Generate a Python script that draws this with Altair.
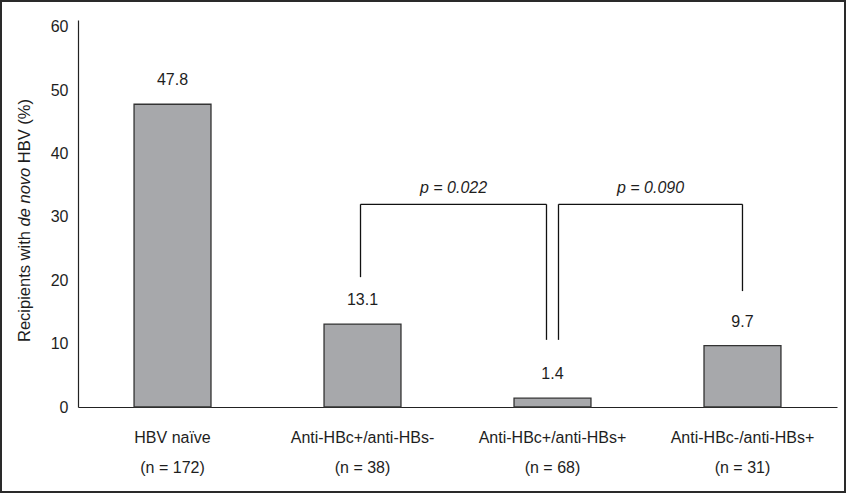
import altair as alt
import pandas as pd

# ---- data ----
categories = ["HBV naïve", "Anti-HBc+/anti-HBs-", "Anti-HBc+/anti-HBs+", "Anti-HBc-/anti-HBs+"]
n_values = [172, 38, 68, 31]
rates = [47.8, 13.1, 1.4, 9.7]

bracket_from = [1, 2]
bracket_to = [2, 3]
p_labels = ["p = 0.022", "p = 0.090"]
bracket_top = [32.0, 32.0]
bracket_from_bottom = [20.5, 10.6]
bracket_to_bottom = [10.6, 18.3]
y_ticks = [0, 10, 20, 30, 40, 50, 60]

# ---- style / layout ----
FONT = "Liberation Sans"
W, H = 759, 387
PAD_L, PAD_T = 78, 20
P_IN, P_OUT = 0.595, 0.295
STEP = W / (len(categories) - P_IN + 2 * P_OUT)
leg_off_from = [-2, 6]
leg_off_to = [-6, 0]
TXT = "#1e1e1e"
LINE = "#222222"

labels = [f"{c}|(n = {n})" for c, n in zip(categories, n_values)]
bars = pd.DataFrame({"label": labels, "rate": rates})

xscale = alt.Scale(domain=labels, paddingInner=P_IN, paddingOuter=P_OUT)
yscale = alt.Scale(domain=[0, 61.1], nice=False, zero=True)

x_axis = alt.Axis(
    title=None, labelExpr="split(datum.label, '|')", ticks=False, domain=True,
    domainColor=LINE, domainWidth=1.2, labelFont=FONT, labelFontSize=16, labelColor=TXT,
    labelPadding=22, labelLineHeight=30, labelBaseline="top", labelAngle=0,
)
y_axis = alt.Axis(
    title=None, values=y_ticks, ticks=False, grid=False, domainColor=LINE, domainWidth=1.2,
    labelFont=FONT, labelFontSize=16, labelColor=TXT, labelPadding=10,
)

bar = alt.Chart(bars).mark_bar(
    fill="#a7a8ab", stroke="#333333", strokeWidth=1.3
).encode(
    x=alt.X("label:N", scale=xscale, axis=x_axis, sort=labels),
    y=alt.Y("rate:Q", scale=yscale, axis=y_axis),
)

value_text = alt.Chart(bars).mark_text(
    font=FONT, fontSize=16, color=TXT, baseline="middle", dy=-24
).encode(
    x=alt.X("label:N", scale=xscale, sort=labels),
    y=alt.Y("rate:Q", scale=yscale),
    text=alt.Text("rate:Q", format=".1f"),
)

layers = [bar, value_text]

for i in range(len(p_labels)):
    lf = labels[bracket_from[i]]
    lt = labels[bracket_to[i]]
    top = bracket_top[i]
    leg_l = pd.DataFrame({"label": [lf], "y": [bracket_from_bottom[i]], "y2": [top]})
    leg_r = pd.DataFrame({"label": [lt], "y": [bracket_to_bottom[i]], "y2": [top]})
    hz = pd.DataFrame({"label": [lf], "label2": [lt], "y": [top]})
    ptxt = pd.DataFrame({"label": [lf], "y": [top], "p": [p_labels[i]]})

    layers.append(alt.Chart(leg_l).mark_rule(color="#111111", strokeWidth=1.3,
                                             xOffset=leg_off_from[i]).encode(
        x=alt.X("label:N", scale=xscale, sort=labels),
        y=alt.Y("y:Q", scale=yscale), y2="y2:Q"))
    layers.append(alt.Chart(leg_r).mark_rule(color="#111111", strokeWidth=1.3,
                                             xOffset=leg_off_to[i]).encode(
        x=alt.X("label:N", scale=xscale, sort=labels),
        y=alt.Y("y:Q", scale=yscale), y2="y2:Q"))
    layers.append(alt.Chart(hz).mark_rule(color="#111111", strokeWidth=1.3,
                                          xOffset=leg_off_from[i],
                                          x2Offset=leg_off_to[i]).encode(
        x=alt.X("label:N", scale=xscale, sort=labels), x2="label2:N",
        y=alt.Y("y:Q", scale=yscale)))
    dx = (STEP + leg_off_from[i] + leg_off_to[i]) / 2
    layers.append(alt.Chart(ptxt).mark_text(
        font=FONT, fontSize=16, fontStyle="italic", color=TXT, baseline="middle",
        dx=dx, dy=-16).encode(
        x=alt.X("label:N", scale=xscale, sort=labels),
        y=alt.Y("y:Q", scale=yscale), text="p:N"))

# ---- y axis title with italic "de novo" ----
title_parts = ["Recipients with", "de novo", "HBV (%)"]
title_styles = ["normal", "italic", "normal"]
cw = {"R": 722, "e": 556, "c": 500, "i": 222, "p": 556, "n": 556, "t": 278, "s": 500,
      " ": 278, "w": 722, "h": 556, "d": 556, "o": 556, "v": 500, "H": 722, "B": 667,
      "V": 667, "(": 333, "%": 889, ")": 333}
TFS = 16.5
space_w = cw[" "] * TFS / 1000
widths = [sum(cw.get(ch, 556) for ch in part) * TFS / 1000 for part in title_parts]
total = sum(widths) + space_w * (len(widths) - 1)
center_y = H / 2 + 7
start = center_y + total / 2
pos = []
for w in widths:
    pos.append(start)
    start -= w + space_w
for part, style, yp in zip(title_parts, title_styles, pos):
    layers.append(alt.Chart(pd.DataFrame({"t": [part]})).mark_text(
        font=FONT, fontSize=TFS, fontStyle=style, color=TXT, angle=270,
        align="left", baseline="middle").encode(
        x=alt.value(-53), y=alt.value(yp), text="t:N"))

# ---- outer frame ----
frame = alt.Chart(pd.DataFrame({"a": [0]})).mark_rect(
    fill="transparent", stroke="#2a2a2a", strokeWidth=2).encode(
    x=alt.value(-PAD_L + 1), x2=alt.value(847 - PAD_L - 2),
    y=alt.value(-PAD_T + 1), y2=alt.value(493 - PAD_T - 1))
layers.append(frame)

chart = alt.layer(*layers).properties(
    width=W, height=H,
    autosize=alt.AutoSizeParams(type="none"),
    padding={"left": PAD_L, "top": PAD_T, "right": 847 - PAD_L - W, "bottom": 493 - PAD_T - H},
    background="white",
).configure_view(stroke=None)

chart.save("out.html", embed_options={"renderer": "svg", "actions": False})
